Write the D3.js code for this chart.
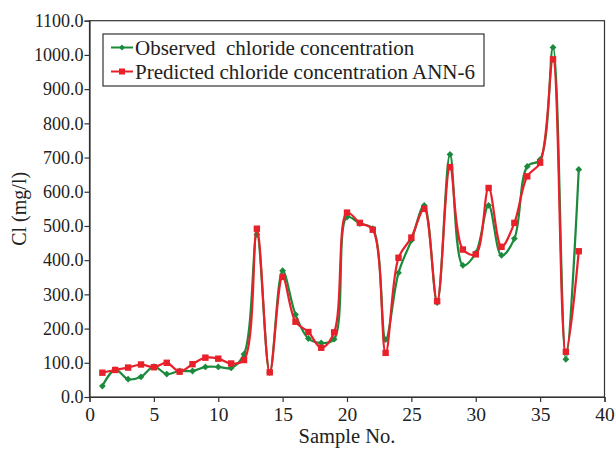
<!DOCTYPE html>
<html>
<head>
<meta charset="utf-8">
<script src="https://cdn.jsdelivr.net/npm/d3@7"></script>
<style>
  html, body { margin: 0; padding: 0; background: #fff; }
  svg { display: block; font-family: "Liberation Serif", "Times New Roman", serif; }
</style>
</head>
<body>
<svg id="chart" width="616" height="449"></svg>
<script>
// Chloride concentration per sample: observed vs. ANN-6 prediction
const samples = d3.range(1, 39);
const observed = [32, 80, 52, 59, 89, 67, 76, 76, 88, 88, 85, 125, 475, 72, 369, 241, 171, 158, 169, 526,
                  507, 492, 168, 363, 458, 560, 276, 709, 385, 421, 560, 414, 463, 674, 694, 1022, 110, 665];
const predicted = [71, 79, 86, 95, 87, 100, 74, 96, 115, 112, 98, 108, 492, 72, 351, 220, 190, 144, 189, 539,
                   509, 489, 129, 407, 466, 550, 280, 672, 431, 417, 611, 439, 509, 645, 685, 987, 132, 426];
const xTicks = [0, 5, 10, 15, 20, 25, 30, 35, 40];
const yTicks = d3.range(0, 1101, 100);
const seriesNames = ["Observed  chloride concentration", "Predicted chloride concentration ANN-6"];
const seriesColors = ["#1b8a3c", "#e8202a"];

const svg = d3.select("#chart");
const m = { left: 89.5, right: 616 - 604.5, top: 20.7, bottom: 449 - 397 };
const W = 616, H = 449;

const x = d3.scaleLinear().domain([0, 40]).range([m.left, W - m.right]);
const y = d3.scaleLinear().domain([0, 1100]).range([H - m.bottom, m.top]);

// plot frame
svg.append("rect")
  .attr("x", x(0)).attr("y", y(1100))
  .attr("width", x(40) - x(0)).attr("height", y(0) - y(1100))
  .attr("fill", "none").attr("stroke", "#333").attr("stroke-width", 1.2);

// axes
const yAxis = svg.append("g")
  .attr("transform", `translate(${x(0)},0)`)
  .call(d3.axisLeft(y).tickValues(yTicks).tickFormat(d => d.toFixed(1)).tickSize(5).tickPadding(1));
const xAxis = svg.append("g")
  .attr("transform", `translate(0,${y(0)})`)
  .call(d3.axisBottom(x).tickValues(xTicks).tickFormat(d3.format("d")).tickSize(5).tickPadding(5));

[yAxis, xAxis].forEach(g => {
  g.select(".domain").attr("stroke", "#333").attr("stroke-width", 1.2);
  g.selectAll(".tick line").attr("stroke", "#333").attr("stroke-width", 1.2);
  g.selectAll(".tick text")
    .attr("fill", "#222")
    .style("font-family", "'Liberation Serif', 'Times New Roman', serif");
});
yAxis.selectAll(".tick text").style("font-size", "18px");
xAxis.selectAll(".tick text").style("font-size", "19.5px");

// axis titles
svg.append("text")
  .attr("x", (x(0) + x(40)) / 2).attr("y", 443)
  .attr("text-anchor", "middle").attr("fill", "#222")
  .style("font-size", "20.5px").text("Sample No.");
svg.append("text")
  .attr("transform", `translate(26,${(y(0) + y(1100)) / 2}) rotate(-90)`)
  .attr("text-anchor", "middle").attr("fill", "#222")
  .style("font-size", "20px").text("Cl (mg/l)");

// series
const curve = d3.curveCatmullRom.alpha(0.5);
const line = d3.line().x((d, i) => x(samples[i])).y(d => y(d)).curve(curve);

function diamond(g, cx, cy, r, color) {
  g.append("path")
    .attr("d", `M${cx},${cy - r}L${cx + r},${cy}L${cx},${cy + r}L${cx - r},${cy}Z`)
    .attr("fill", color);
}

const gObs = svg.append("g");
gObs.append("path").datum(observed)
  .attr("d", line).attr("fill", "none")
  .attr("stroke", seriesColors[0]).attr("stroke-width", 2.2);
observed.forEach((v, i) => diamond(gObs, x(samples[i]), y(v), 3.4, seriesColors[0]));

const gPred = svg.append("g");
gPred.append("path").datum(predicted)
  .attr("d", line).attr("fill", "none")
  .attr("stroke", seriesColors[1]).attr("stroke-width", 2.2);
gPred.selectAll("rect").data(predicted).join("rect")
  .attr("x", (d, i) => x(samples[i]) - 3.2).attr("y", d => y(d) - 3.2)
  .attr("width", 6.4).attr("height", 6.4)
  .attr("fill", seriesColors[1]);

// legend
const leg = svg.append("g");
leg.append("rect")
  .attr("x", 103).attr("y", 34).attr("width", 381).attr("height", 52)
  .attr("fill", "#fff").attr("stroke", "#333").attr("stroke-width", 1.2);
seriesNames.forEach((name, i) => {
  const ly = 47.5 + i * 24;
  leg.append("line")
    .attr("x1", 111).attr("x2", 133).attr("y1", ly).attr("y2", ly)
    .attr("stroke", seriesColors[i]).attr("stroke-width", 2);
  if (i === 0) diamond(leg, 122, ly, 3, seriesColors[0]);
  else leg.append("rect").attr("x", 119).attr("y", ly - 3).attr("width", 6).attr("height", 6)
    .attr("fill", seriesColors[1]);
  leg.append("text")
    .attr("x", 135).attr("y", ly + 7)
    .attr("fill", "#222").style("font-size", "21px")
    .attr("xml:space", "preserve").style("white-space", "pre")
    .text(name);
});
</script>
</body>
</html>
